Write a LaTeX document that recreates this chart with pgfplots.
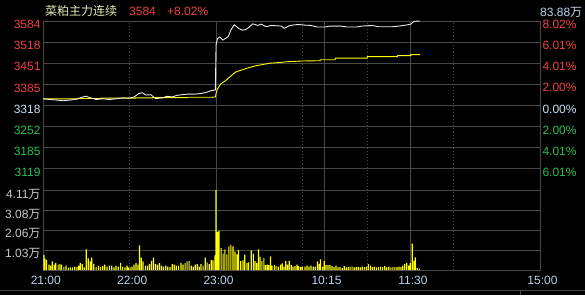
\documentclass[border=0pt]{standalone}
\usepackage{pgfplots}
\pgfplotsset{compat=1.18}
\usepackage{fontspec}
\setmainfont{Liberation Sans}
\newfontfamily\cjk{Noto Sans CJK SC}
\definecolor{gridc}{RGB}{72,72,72}
\definecolor{upred}{RGB}{240,64,64}
\definecolor{dngreen}{RGB}{40,190,80}
\definecolor{flatc}{RGB}{200,225,245}
\definecolor{volc}{RGB}{200,200,200}
\definecolor{timec}{RGB}{190,210,235}
\definecolor{titlec}{RGB}{230,230,180}
\definecolor{pricew}{RGB}{235,235,235}
\definecolor{avgy}{RGB}{255,255,0}
\begin{document}
\begin{tikzpicture}[font=\fontsize{12}{14}\selectfont]
\fill[black] (0,0) rectangle (585pt,295pt);
\useasboundingbox (0,0) rectangle (585pt,295pt);
% price pane
\begin{axis}[
  at={(43.3pt,105pt)}, anchor=south west,
  width=496.7pt, height=169pt, scale only axis,
  xmin=0, xmax=345, ymin=3052, ymax=3584,
  clip=false,
  axis line style={gridc, line width=0.8pt},
  xtick={120,195,255}, xticklabels={,,},
  minor xtick={60,180,225,285},
  xmajorgrids, xminorgrids, ymajorgrids,
  major grid style={gridc, line width=0.8pt},
  minor grid style={gridc, line width=0.8pt, dash pattern=on 0.8pt off 2.4pt},
  major tick length=0, minor tick length=0,
  ytick={3118.5,3185,3251.5,3318,3384.5,3451,3517.5,3584},
  yticklabels={\textcolor{dngreen}{3119},\textcolor{dngreen}{3185},\textcolor{dngreen}{3252},\textcolor{flatc}{3318},\textcolor{upred}{3385},\textcolor{upred}{3451},\textcolor{upred}{3518},\textcolor{upred}{3584}},
  yticklabel style={anchor=base east, inner sep=0pt, xshift=-2.6pt, yshift=-7.7pt},
]
\addplot[avgy, line width=0.9pt] coordinates {
(0,3339) (24,3339) (24,3340) (40,3340) (40,3341) (64,3341) (64,3342) (76,3342) (76,3343) (100,3343) (100,3344) (117,3344) (119.6,3345)
(120,3356) (121,3370) (123.3,3386) (126.8,3397) (130.3,3411) (133.8,3424) (137.3,3429) (142,3436) (146.6,3442) (151.3,3446)
(157.1,3451) (163,3453) (170,3456) (179.3,3458) (192.3,3459) (192.3,3462) (202.8,3462) (202.8,3467) (225,3467) (225,3472)
(246,3472) (246,3475) (255.3,3475) (255.3,3478) (261.5,3478)
};
\addplot[pricew, line width=0.9pt] coordinates {
(0,3339) (4.6,3337) (9.2,3335) (13.8,3333) (18.4,3335) (23.0,3338) (27.5,3345) (29.9,3347) (32.1,3343) (36.7,3337)
(41.3,3339) (45.9,3337) (50.5,3339) (55.1,3342) (59.7,3341) (63.1,3345) (66.5,3356) (68.8,3358) (71.2,3351) (74.6,3352)
(78.0,3340) (82.6,3342) (86.0,3347) (89.5,3345) (92.9,3350) (96.3,3352) (101.0,3354) (105.6,3354) (110.1,3356) (113.6,3360)
(115.9,3364) (118.2,3366) (119.5,3367) (120,3510) (121,3528) (122.6,3534) (124.7,3524) (126.8,3530) (128.5,3535) (130.3,3556)
(132.6,3572) (133.8,3568) (135.9,3560) (138.2,3555) (140.6,3557) (143.1,3565) (145.5,3575) (149.0,3570) (151.3,3574)
(154.8,3566) (158.3,3570) (161.8,3569) (165.3,3568) (167.4,3561) (170.9,3569) (174.4,3572) (177.9,3573) (181.5,3571)
(185.8,3570) (190.5,3565) (195.6,3565) (199,3568) (206.6,3568) (211,3565) (217.4,3565) (221.3,3568) (228.3,3570) (233,3566)
(242.3,3566) (247,3568) (251.7,3571) (255.2,3574) (257.5,3583) (261.5,3584)
};
\end{axis}
% right labels
\begin{axis}[
  at={(43.3pt,105pt)}, anchor=south west,
  width=496.7pt, height=169pt, scale only axis,
  xmin=0, xmax=345, ymin=3052, ymax=3584,
  axis line style={draw=none}, xtick=\empty,
  major tick length=0,
  ytick={3118.5,3185,3251.5,3318,3384.5,3451,3517.5,3584},
  yticklabel pos=right,
  yticklabels={\textcolor{dngreen}{6.01\%},\textcolor{dngreen}{4.01\%},\textcolor{dngreen}{2.00\%},\textcolor{flatc}{0.00\%},\textcolor{upred}{2.00\%},\textcolor{upred}{4.01\%},\textcolor{upred}{6.01\%},\textcolor{upred}{8.02\%}},
  yticklabel style={anchor=base west, inner sep=0pt, xshift=2.3pt, yshift=-7.5pt},
]
\end{axis}
% volume pane
\begin{axis}[
  at={(43.3pt,25pt)}, anchor=south west,
  width=496.7pt, height=80pt, scale only axis,
  xmin=0, xmax=345, ymin=0, ymax=4.11,
  axis line style={gridc, line width=0.8pt},
  xtick={120,195,255}, xticklabels={,,},
  minor xtick={60,180,225,285},
  extra x ticks={0,60,120,195,255,345},
  extra x tick labels={21:00,22:00,23:00,10:15,11:30,15:00},
  extra x tick style={grid=none},
  xmajorgrids, xminorgrids, ymajorgrids,
  major grid style={gridc, line width=0.8pt},
  minor grid style={gridc, line width=0.8pt, dash pattern=on 0.8pt off 2.4pt},
  major tick length=0, minor tick length=0,
  xticklabel style={anchor=base, inner sep=0pt, text=timec, xshift=2.5pt, yshift=-14pt},
  ytick={1.03,2.06,3.08,4.11},
  yticklabels={1.03{\cjk 万},2.06{\cjk 万},3.08{\cjk 万},4.11{\cjk 万}},
  yticklabel style={anchor=base east, inner sep=0pt, text=volc, xshift=-2.6pt, yshift=-8pt},
]
\addplot[ybar, bar width=1.2pt, fill=avgy, draw=none] coordinates {
(0.5,0.77) (1.2,0.57) (2.3,0.52) (4.0,0.27) (5.1,0.23) (6.2,0.44) (7.6,0.27) (8.7,0.35) (10.3,0.27) (11.5,0.30)
(12.7,0.27) (14.3,0.15) (15.7,0.22) (17.4,0.12) (18.8,0.13) (20.2,0.13) (21.8,0.17) (23.4,0.15) (24.6,0.23) (25.7,0.35)
(27.1,0.32) (28.5,0.13) (29.8,1.06) (31.2,0.60) (32.6,0.44) (33.7,0.64) (35.1,0.32) (36.7,0.15) (38.4,0.22) (39.8,0.15)
(41.3,0.20) (42.7,0.27) (44.3,0.18) (45.9,0.22) (47.5,0.23) (49.1,0.13) (50.5,0.23) (52.1,0.18) (53.7,0.37) (55.1,0.17)
(56.7,0.13) (58.1,0.22) (59.1,0.13) (60.3,0.13) (61.6,0.18) (63.0,0.27) (64.4,0.35) (65.7,0.27) (66.8,1.27) (68.0,0.64)
(69.3,0.44) (70.9,0.22) (72.4,0.23) (73.8,0.30) (75.1,0.47) (76.5,0.64) (77.9,0.30) (79.3,0.27) (80.7,0.35) (82.1,0.22)
(83.5,0.18) (85.1,0.23) (86.4,0.18) (88.0,0.15) (89.6,0.30) (91.0,0.27) (92.4,0.23) (94.0,0.23) (95.6,0.35) (97.0,0.27)
(98.5,0.35) (99.9,0.44) (101.3,0.47) (102.7,0.23) (104.1,0.18) (105.5,0.27) (106.9,0.30) (108.3,0.18) (109.6,0.30) (111.0,0.23)
(112.5,0.64) (113.8,0.39) (115.2,0.30) (116.6,0.52) (117.8,0.50) (119.2,0.75) (120.0,4.11)
(121.0,1.96) (122.0,2.01) (123.5,1.12) (124.9,0.84) (126.1,1.06) (127.5,0.80) (128.9,1.21) (130.3,1.29) (131.7,1.21) (133.1,0.95)
(134.5,0.80) (135.6,1.04) (137.2,0.45) (138.7,0.50) (139.9,0.79) (141.5,0.37) (142.6,0.39) (144.5,1.01) (145.9,0.84) (147.0,0.45)
(148.3,0.37) (149.5,1.06) (150.6,0.67) (151.8,0.45) (153.2,0.62) (154.3,0.25) (155.5,0.28) (156.6,0.25) (157.8,0.70) (158.9,0.22)
(160.5,0.25) (161.7,0.20) (163.2,0.17) (164.8,0.28) (165.9,0.34) (167.2,0.17) (168.4,0.45) (169.6,0.28) (170.8,0.45) (172.2,0.25)
(173.5,0.17) (174.8,0.20) (176.2,0.28) (177.3,0.20) (178.7,0.15) (179.8,0.17) (181.8,0.18) (183.2,0.23) (184.6,0.17) (186.0,0.22)
(187.5,0.18) (188.9,0.18) (190.5,0.44) (191.6,0.32) (192.6,0.55) (194.0,0.18) (195.1,0.45) (196.4,0.25) (197.7,0.25) (199.1,0.25)
(200.5,0.20) (201.9,0.15) (203.3,0.22) (204.7,0.13) (206.1,0.15) (207.6,0.10) (209.0,0.20) (210.4,0.13) (211.8,0.15) (213.1,0.17)
(214.5,0.17) (216.0,0.13) (217.4,0.15) (218.8,0.15) (220.2,0.13) (221.6,0.17) (223.0,0.15) (224.5,0.18) (225.8,0.30) (227.2,0.22)
(228.6,0.15) (230.0,0.17) (231.5,0.13) (232.9,0.15) (234.3,0.17) (235.7,0.15) (237.1,0.20) (238.5,0.13) (240.0,0.17) (241.4,0.13)
(242.8,0.15) (244.2,0.15) (245.6,0.15) (247.1,0.18) (248.5,0.15) (249.6,0.23) (251.0,0.30) (252.4,0.35) (253.8,0.22) (254.9,0.35)
(256.3,1.36) (257.5,0.47) (258.4,0.65) (259.8,0.10) (261.2,0.07)
};
\end{axis}
% header
\node[anchor=base west, inner sep=0pt, text=titlec] at (45pt,279pt) {\cjk 菜粕主力连续};
\node[anchor=base west, inner sep=0pt, text=upred] at (129pt,279pt) {3584};
\node[anchor=base west, inner sep=0pt, text=upred] at (167pt,279pt) {+8.02\%};
\node[anchor=base west, inner sep=0pt, text=timec] at (540pt,278.5pt) {83.88{\cjk 万}};
% bottom frame
\draw[gridc, line width=0.8pt] (0,5pt) -- (585pt,5pt);
\draw[gridc, line width=0.8pt] (520pt,5pt) -- (520pt,0pt);
\end{tikzpicture}
\end{document}
